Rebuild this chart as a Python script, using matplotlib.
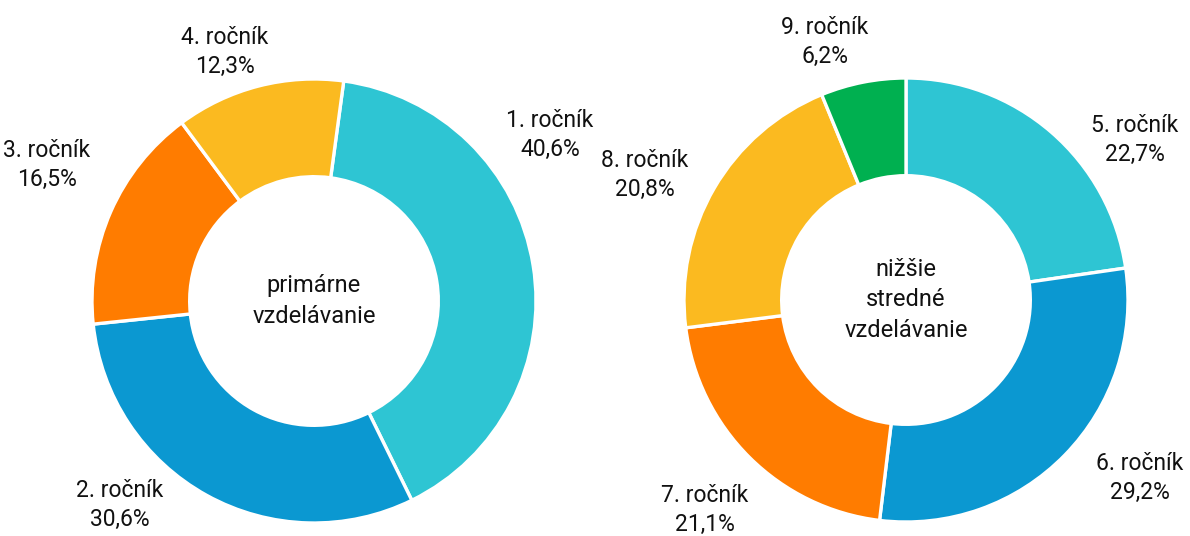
import matplotlib
matplotlib.use("Agg")
import matplotlib.pyplot as plt

plt.rcParams['font.family'] = ['Roboto', 'DejaVu Sans']

# left donut: primary education
prim_labels = ["1. ročník", "2. ročník", "3. ročník", "4. ročník"]
prim_values = [40.6, 30.6, 16.5, 12.3]
prim_colors = ["#2EC5D3", "#0B98D1", "#FF7C00", "#FBBA20"]

# right donut: lower secondary education
sec_labels = ["5. ročník", "6. ročník", "7. ročník", "8. ročník", "9. ročník"]
sec_values = [22.7, 29.2, 21.1, 20.8, 6.2]
sec_colors = ["#2EC5D3", "#0B98D1", "#FF7C00", "#FBBA20", "#00B050"]

W, H = 1190, 536
R = 222  # outer radius in pixels

fig = plt.figure(figsize=(W / 100, H / 100), dpi=100, facecolor='white')


def donut(cx, cy, values, colors, labels, label_pos, start, center_text):
    # cx, cy: center in pixels, cy measured from top
    half = 300
    ax = fig.add_axes([(cx - half) / W, 0, 2 * half / W, 1])
    cyb = H - cy
    ax.pie(values, colors=colors, startangle=start, counterclock=False,
           radius=1.0,
           wedgeprops={'width': 0.44, 'edgecolor': 'white', 'linewidth': 2.4})
    ax.set_xlim(-half / R, half / R)
    ax.set_ylim(-cyb / R, (H - cyb) / R)
    ax.axis('off')
    for lab, v, (x, y) in zip(labels, values, label_pos):
        txt = f"{lab}\n{str(v).replace('.', ',')}%"
        ax.text(x, y, txt, ha='center', va='center', fontsize=16.5,
                color='#111111', linespacing=1.3)
    ax.text(0, 0, center_text, ha='center', va='center', fontsize=17,
            color='#111111', linespacing=1.4)


donut(314, 301, prim_values, prim_colors, prim_labels,
      [(1.063, 0.748), (-0.874, -0.919), (-1.203, 0.613), (-0.401, 1.122)],
      90 - 7.7, "primárne\nvzdelávanie")

donut(906, 300, sec_values, sec_colors, sec_labels,
      [(1.032, 0.721), (1.054, -0.802), (-0.905, -0.946), (-1.176, 0.563),
       (-0.365, 1.162)],
      90, "nižšie\nstredné\nvzdelávanie")

fig.savefig("out.png", dpi=100, facecolor='white')
